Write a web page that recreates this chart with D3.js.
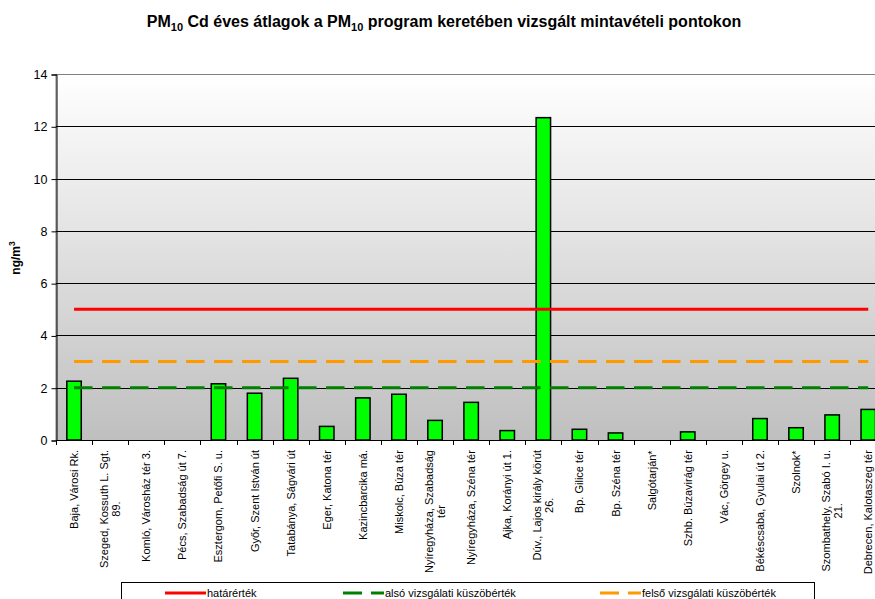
<!DOCTYPE html>
<html>
<head>
<meta charset="utf-8">
<script src="https://cdn.jsdelivr.net/npm/d3@7"></script>
<style>
  body { margin: 0; background: #fff; }
  text { font-family: "Liberation Sans", Arial, sans-serif; }
</style>
</head>
<body>
<div id="chart-area"></div>
<script>
// station names (\n marks the wrapped second line)
var categories = [
  "Baja, Városi Rk.",
  "Szeged, Kossuth L. Sgt.\n89.",
  "Komló, Városház tér 3.",
  "Pécs, Szabadság út 7.",
  "Esztergom, Petőfi S. u.",
  "Győr, Szent István út",
  "Tatabánya, Ságvári út",
  "Eger, Katona tér",
  "Kazincbarcika má.",
  "Miskolc, Búza tér",
  "Nyíregyháza, Szabadság\ntér",
  "Nyíregyháza, Széna tér",
  "Ajka, Korányi út 1.",
  "Dúv., Lajos király körút\n26.",
  "Bp. Gilice tér",
  "Bp. Széna tér",
  "Salgótarján*",
  "Szhb. Búzavirág tér",
  "Vác, Görgey u.",
  "Békéscsaba, Gyulai út 2.",
  "Szolnok*",
  "Szombathely, Szabó I. u.\n21.",
  "Debrecen, Kalotaszeg tér"
];

// annual mean Cd, ng/m3 (null = no data)
var cdValues = [2.25, null, null, null, 2.15, 1.79, 2.36, 0.52, 1.61, 1.75, 0.75, 1.44,
  0.36, 12.33, 0.41, 0.27, null, 0.31, null, 0.82, 0.47, 0.96, 1.17];

var limitValue = 5;       // határérték
var lowerThreshold = 2;   // alsó vizsgálati küszöbérték
var upperThreshold = 3;   // felső vizsgálati küszöbérték

var yTicks = [0, 2, 4, 6, 8, 10, 12, 14];

var legendItems = [
  { name: "határérték", color: "#ff0000", dash: null, x: 165 },
  { name: "alsó vizsgálati küszöbérték", color: "#008000", dash: "19,9", x: 343 },
  { name: "felső vizsgálati küszöbérték", color: "#ff9900", dash: "19,9", x: 600 }
];

var W = 875, H = 599;
var plot = { left: 56, top: 74, bottom: 440, step: 36.1 };

var svg = d3.select("#chart-area")
  .append("svg")
  .attr("width", W)
  .attr("height", H);

var defs = svg.append("defs");
var grad = defs.append("linearGradient")
  .attr("id", "bg")
  .attr("x1", 0).attr("y1", 0).attr("x2", 0).attr("y2", 1);
grad.append("stop").attr("offset", "0%").attr("stop-color", "#ffffff");
grad.append("stop").attr("offset", "100%").attr("stop-color", "#bfbfbf");

var x = d3.scaleBand()
  .domain(categories)
  .range([plot.left, plot.left + plot.step * categories.length])
  .padding(0);

var y = d3.scaleLinear()
  .domain([0, 14])
  .range([plot.bottom, plot.top]);

var plotRight = x.range()[1];

// plot background
svg.append("rect")
  .attr("x", plot.left)
  .attr("y", plot.top + 0.5)
  .attr("width", plotRight - plot.left)
  .attr("height", plot.bottom - plot.top)
  .attr("fill", "url(#bg)")
  .attr("stroke", "#808080")
  .attr("stroke-width", 1);

// gridlines
svg.selectAll(".grid")
  .data(yTicks.filter(d => d > 0 && d < 14))
  .enter()
  .append("line")
  .attr("x1", plot.left)
  .attr("x2", plotRight)
  .attr("y1", d => Math.round(y(d)) + 0.5)
  .attr("y2", d => Math.round(y(d)) + 0.5)
  .attr("stroke", "#000")
  .attr("stroke-width", 1);

// bars
var barW = x.bandwidth() * 0.4;
svg.selectAll(".bar")
  .data(categories.map((c, i) => ({ c: c, v: cdValues[i] })).filter(d => d.v != null))
  .enter()
  .append("rect")
  .attr("class", "bar")
  .attr("x", d => x(d.c) + (x.bandwidth() - barW) / 2)
  .attr("y", d => y(d.v))
  .attr("width", barW)
  .attr("height", d => y(0) - y(d.v))
  .attr("fill", "#00ff00")
  .attr("stroke", "#000")
  .attr("stroke-width", 1.5);

// threshold lines, from first to last category centre
var xFirst = x(categories[0]) + x.bandwidth() / 2;
var xLast = x(categories[categories.length - 1]) + x.bandwidth() / 2;

function hline(value, color, dash) {
  var l = svg.append("line")
    .attr("x1", xFirst)
    .attr("x2", xLast)
    .attr("y1", y(value))
    .attr("y2", y(value))
    .attr("stroke", color)
    .attr("stroke-width", 3);
  if (dash) l.attr("stroke-dasharray", dash);
}
hline(lowerThreshold, "#008000", "18.5,9.5");
hline(upperThreshold, "#ff9900", "18.5,9.5");
hline(limitValue, "#ff0000", null);

// y axis
var yAxis = d3.axisLeft(y)
  .tickValues(yTicks)
  .tickSize(5)
  .tickPadding(4);
var yAxisGroup = svg.append("g")
  .attr("transform", "translate(" + (plot.left + 0.5) + ",0.5)")
  .call(yAxis);
yAxisGroup.select(".domain").attr("stroke", "#000");
yAxisGroup.selectAll("text")
  .attr("font-size", "12.5px")
  .attr("fill", "#000")
  .style("font-family", "'Liberation Sans', Arial, sans-serif");

// x axis line + boundary ticks
svg.append("line")
  .attr("x1", plot.left)
  .attr("x2", plotRight)
  .attr("y1", plot.bottom + 0.5)
  .attr("y2", plot.bottom + 0.5)
  .attr("stroke", "#000");

var bounds = categories.map(c => x(c)).concat([plotRight]);
svg.selectAll(".xtick")
  .data(bounds)
  .enter()
  .append("line")
  .attr("x1", d => Math.round(d) + 0.5)
  .attr("x2", d => Math.round(d) + 0.5)
  .attr("y1", plot.bottom)
  .attr("y2", plot.bottom + 5)
  .attr("stroke", "#000");

// rotated category labels
var lineH = 12;
var labels = svg.selectAll(".xlabel")
  .data(categories)
  .enter()
  .append("text")
  .attr("class", "xlabel")
  .attr("font-size", "11px")
  .attr("text-anchor", "middle")
  .attr("transform", function(d) {
    var cx = x(d) + x.bandwidth() / 2;
    return "translate(" + cx + "," + (plot.bottom + 10) + ") rotate(-90)";
  });

labels.each(function(d) {
  var lines = d.split("\n");
  var t = d3.select(this);
  lines.forEach(function(s, i) {
    t.append("tspan")
      .attr("x", 0)
      .attr("y", (i - (lines.length - 1) / 2) * lineH + 4)
      .text(s);
  });
  var bb = this.getBBox();
  // shift so the block's top end sits just under the axis
  t.selectAll("tspan").attr("x", -bb.width / 2);
});

// y axis title
var yTitle = svg.append("text")
  .attr("transform", "translate(20,258) rotate(-90)")
  .attr("text-anchor", "middle")
  .attr("font-size", "12px")
  .attr("font-weight", "bold");
yTitle.append("tspan").text("ng/m");
yTitle.append("tspan").attr("dy", -5).attr("font-size", "8.5px").text("3");

// chart title
var title = svg.append("text")
  .attr("x", 444)
  .attr("y", 27)
  .attr("text-anchor", "middle")
  .attr("font-size", "16px")
  .attr("font-weight", "bold");
title.append("tspan").text("PM");
title.append("tspan").attr("dy", 4).attr("font-size", "11px").text("10");
title.append("tspan").attr("dy", -4).text(" Cd éves átlagok a PM");
title.append("tspan").attr("dy", 4).attr("font-size", "11px").text("10");
title.append("tspan").attr("dy", -4).text(" program keretében vizsgált mintavételi pontokon");

// legend
svg.append("rect")
  .attr("x", 121.5)
  .attr("y", 582.5)
  .attr("width", 693)
  .attr("height", 30)
  .attr("fill", "#fff")
  .attr("stroke", "#000");

var legend = svg.selectAll(".legend")
  .data(legendItems)
  .enter()
  .append("g")
  .attr("class", "legend")
  .attr("transform", d => "translate(" + d.x + ",593)");

legend.append("line")
  .attr("x1", 0)
  .attr("x2", 41)
  .attr("stroke", d => d.color)
  .attr("stroke-width", 3)
  .attr("stroke-dasharray", d => d.dash);

legend.append("text")
  .attr("x", 42)
  .attr("y", 4)
  .attr("font-size", "11px")
  .text(d => d.name);
</script>
</body>
</html>
